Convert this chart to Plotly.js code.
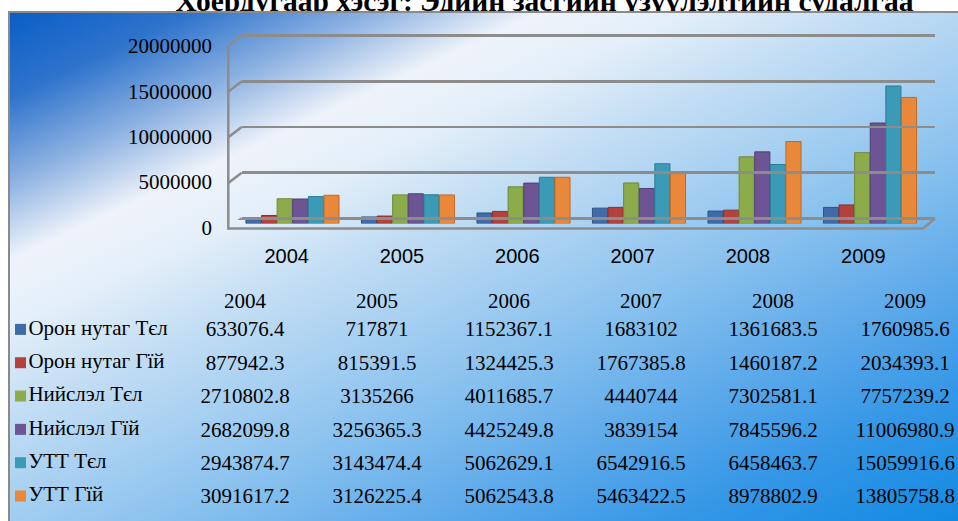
<!DOCTYPE html>
<html>
<head>
<meta charset="utf-8">
<script src="https://cdn.plot.ly/plotly-3.0.1.min.js"></script>
<style>
html, body { margin:0; padding:0; width:958px; height:521px; overflow:hidden; background:#ffffff; }
.panel { position:absolute; left:8px; top:11px; width:948px;
  border-top:2px solid #8a8a8a; border-left:2px solid #8a8a8a;
  background-image: linear-gradient(155deg, #0a5ec6 0%, #2f74cc 9%, #8fb3e2 18%, #eef3fa 26%, #e4eff9 33%, #c4def4 42%, #a6cff1 52%, #86c0ee 62%, #5eaaea 74%, #3597e6 86%, #128ae2 100%);
  background-size: 948px 508px; background-repeat: no-repeat; background-position: 0 0; }
#panel { height:508px; z-index:0; }
#strip { height:7px; z-index:2; }
#chart { position:absolute; left:0; top:0; width:980px; height:521px; z-index:1; }
</style>
</head>
<body>
<div id="panel" class="panel"></div>
<div id="chart"></div>
<div id="strip" class="panel"></div>
<script>
// ---- data ----
const years = ['2004', '2005', '2006', '2007', '2008', '2009'];
const seriesNames = ['Орон нутаг Тєл', 'Орон нутаг Гїй', 'Нийслэл Тєл', 'Нийслэл Гїй', 'УТТ Тєл', 'УТТ Гїй'];
const oronTel   = [633076.4, 717871, 1152367.1, 1683102, 1361683.5, 1760985.6];
const oronGui   = [877942.3, 815391.5, 1324425.3, 1767385.8, 1460187.2, 2034393.1];
const niislelTel = [2710802.8, 3135266, 4011685.7, 4440744, 7302581.1, 7757239.2];
const niislelGui = [2682099.8, 3256365.3, 4425249.8, 3839154, 7845596.2, 11006980.9];
const uttTel    = [2943874.7, 3143474.4, 5062629.1, 6542916.5, 6458463.7, 15059916.6];
const uttGui    = [3091617.2, 3126225.4, 5062543.8, 5463422.5, 8978802.9, 13805758.8];
const yTicks = [0, 5000000, 10000000, 15000000, 20000000];
const titleText = 'Хоёрдугаар хэсэг: Эдийн засгийн үзүүлэлтийн судалгаа';

// ---- styling / layout helpers ----
const W = 980, H = 521;
const px = x => x / W;
const py = y => 1 - y / H;
const colors = ['#3f6ca8', '#b3413d', '#8cab4b', '#6d5494', '#3b9bb6', '#e9873b'];
const edges  = ['#2c5288', '#8e2f2c', '#6d8a35', '#523e75', '#2a7b92', '#c26a25'];
const allSeries = [oronTel, oronGui, niislelTel, niislelGui, uttTel, uttGui];

const traces = allSeries.map((vals, i) => ({
  type: 'bar', x: years, y: vals, name: seriesNames[i],
  xaxis: 'x', yaxis: 'y',
  marker: { color: colors[i], line: { color: edges[i], width: 1 } },
  hoverinfo: 'skip'
}));

// front plane of the 3-D box: carries the axis labels (invisible marks)
traces.push({
  type: 'scatter', mode: 'markers', xaxis: 'x2', yaxis: 'y2',
  x: years, y: uttTel, marker: { opacity: 0, size: 1 }, hoverinfo: 'skip'
});

// legend keys + row labels of the data table
traces.push({
  type: 'scatter', mode: 'markers+text', xaxis: 'x4', yaxis: 'y4',
  x: seriesNames.map(() => 0), y: seriesNames, text: seriesNames,
  textposition: 'middle right', cliponaxis: false,
  textfont: { family: 'Liberation Serif', size: 21, color: '#000' },
  marker: { symbol: 'square', size: 11, color: colors, line: { width: 0 } },
  hoverinfo: 'skip'
});

// data table
const fmt = v => String(v);
const headerVals = [''].concat(years);
const cellCols = [seriesNames.map(() => '')].concat(years.map((y, j) => allSeries.map(s => fmt(s[j]))));
traces.push({
  type: 'table',
  domain: { x: [px(22), px(22 + 157 + 132 * 6)], y: [0, py(284)] },
  columnwidth: [157, 132, 132, 132, 132, 132, 132],
  header: {
    values: headerVals, height: 28.6,
    align: ['left', 'center'],
    font: { family: 'Liberation Serif', size: 21, color: '#000' },
    fill: { color: 'rgba(0,0,0,0)' }, line: { width: 0, color: 'rgba(0,0,0,0)' }
  },
  cells: {
    values: cellCols, height: 33.4,
    align: ['left', 'center'],
    font: { family: 'Liberation Serif', size: 21, color: '#000' },
    fill: { color: 'rgba(0,0,0,0)' }, line: { width: 0, color: 'rgba(0,0,0,0)' }
  }
});

// frame shapes
const shapes = [];
shapes.push({
  type: 'path', xref: 'paper', yref: 'paper',
  path: 'M' + px(228.3) + ',' + py(46) + ' L' + px(228.3) + ',' + py(228.6) +
        ' L' + px(923) + ',' + py(228.6) + ' L' + px(935) + ',' + py(218.3),
  line: { color: '#8c8c8c', width: 2.5 }
});
yTicks.forEach(v => {
  shapes.push({
    type: 'line', xref: 'paper', yref: 'y3', ysizemode: 'pixel', yanchor: v,
    x0: px(228.3), x1: px(241.7), y0: -10.3, y1: 0,
    line: { color: '#8c8c8c', width: 2.5 }
  });
});

const layout = {
  width: W, height: H,
  margin: { l: 0, r: 0, t: 0, b: 0 },
  paper_bgcolor: 'rgba(0,0,0,0)', plot_bgcolor: 'rgba(0,0,0,0)',
  showlegend: false,
  barmode: 'group', bargap: 0.19, bargroupgap: 0.03,
  title: {
    text: '<b>' + titleText + '</b>',
    font: { family: 'Liberation Serif', size: 29.5, color: '#000' },
    x: px(544.5), xanchor: 'center', xref: 'paper',
    y: py(0.8), yanchor: 'middle', yref: 'paper'
  },
  // bars
  xaxis: { domain: [px(234.75), px(927.75)], anchor: 'y', type: 'category',
           showticklabels: false, showgrid: false, zeroline: false, showline: false, ticks: '', fixedrange: true },
  yaxis: { domain: [py(223.5), py(40.9)], anchor: 'x', range: [0, 20000000],
           showticklabels: false, showgrid: false, zeroline: false, showline: false, ticks: '', fixedrange: true },
  // front plane labels
  xaxis2: { domain: [px(229), px(921)], anchor: 'y2', type: 'category', range: [-0.5, 5.5],
            showgrid: false, zeroline: false, showline: false, ticks: '', fixedrange: true,
            ticklabelstandoff: 15,
            tickfont: { family: 'Liberation Sans', size: 20, color: '#000' } },
  yaxis2: { domain: [py(227.3), py(45.8)], anchor: 'x2', range: [0, 20000000],
            tickmode: 'array', tickvals: yTicks, tickformat: 'd',
            showgrid: false, zeroline: false, showline: false, ticks: '', fixedrange: true,
            ticklabelstandoff: 16,
            tickfont: { family: 'Liberation Serif', size: 21, color: '#000' } },
  // back wall gridlines
  xaxis3: { domain: [px(241.7), px(935)], anchor: 'y3', range: [0, 1],
            showticklabels: false, showgrid: false, zeroline: false, showline: false, ticks: '' },
  yaxis3: { domain: [py(220.1), py(33.9)], anchor: 'x3', range: [-200000, 20200000],
            tickmode: 'array', tickvals: yTicks, showticklabels: false, ticks: '',
            showgrid: true, gridcolor: '#8c8c8c', gridwidth: 2.5, zeroline: false, showline: false },
  // legend keys
  xaxis4: { domain: [px(15), px(26)], anchor: 'y4', range: [-0.5, 0.5], visible: false },
  yaxis4: { domain: [py(329.2 + 33.4 * 5 + 16.7), py(329.2 - 16.7)], anchor: 'x4', type: 'category',
            autorange: 'reversed', visible: false },
  shapes: shapes
};

Plotly.newPlot('chart', traces, layout, { displayModeBar: false, staticPlot: true });
</script>
</body>
</html>
